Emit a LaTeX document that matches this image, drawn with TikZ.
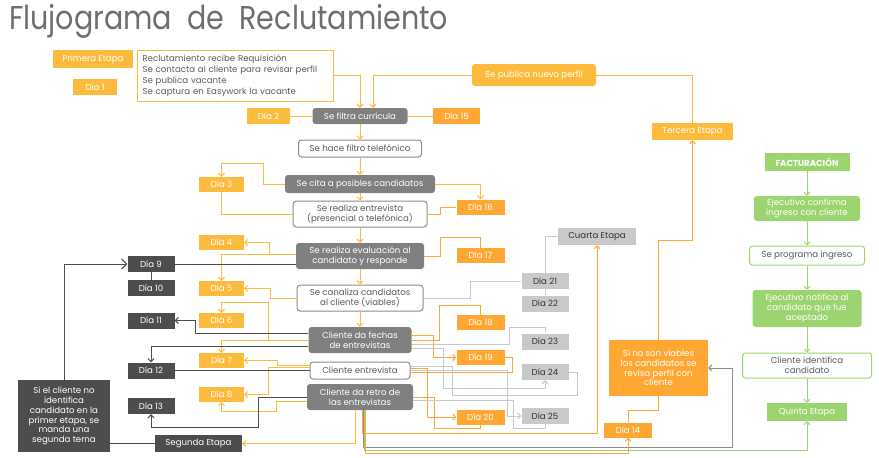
\documentclass[tikz,border=0pt]{standalone}
\usepackage{fontspec}
\setmainfont{Poppins}
\usetikzlibrary{arrows.meta}

\definecolor{amarillo}{HTML}{FDBB3D}
\definecolor{naranja}{HTML}{FFA733}
\definecolor{grisM}{HTML}{808080}
\definecolor{grisO}{HTML}{4D4D4D}
\definecolor{grisC}{HTML}{C9C9C9}
\definecolor{bordeG}{HTML}{8C8C8C}
\definecolor{textoG}{HTML}{5A5A5A}
\definecolor{verde}{HTML}{9CD46F}
\definecolor{titulo}{HTML}{6E6E6E}

\newcommand\fs{\fontsize{8.6}{9.8}\selectfont}

\tikzset{%
  caja/.style={inner sep=0pt, font=\fs, align=center},
  dia/.style={caja, fill=amarillo, text=white, minimum width=45pt, minimum height=15pt},
  diana/.style={caja, fill=naranja, text=white, minimum width=48pt, minimum height=15pt},
  diad/.style={caja, fill=grisO, text=white, minimum width=47pt, minimum height=16pt},
  diac/.style={caja, fill=grisC, text=black!80, minimum width=47pt, minimum height=16pt},
  proc/.style={caja, fill=grisM, text=white, rounded corners=3pt},
  procb/.style={caja, draw=bordeG, line width=1pt, fill=white, text=textoG, rounded corners=3pt},
  verdeb/.style={caja, fill=verde, text=white, rounded corners=3pt},
  verdeo/.style={caja, draw=verde, line width=1pt, fill=white, text=textoG, rounded corners=3pt},
  ol/.style={draw=amarillo, line width=1pt},
  on/.style={draw=naranja, line width=1pt},
  gl/.style={draw=grisC, line width=1pt},
  dl/.style={draw=grisO, line width=1pt},
  vl/.style={draw=verde, line width=1pt},
}

\begin{document}
\begin{tikzpicture}[x=1pt, y=-1pt, >={Straight Barb[length=3pt,width=6pt]}]
  \useasboundingbox (0,0) rectangle (879,458);

  \node[font=\fontsize{33}{33}\selectfont, text=titulo, anchor=west, inner sep=0pt] (titulo) at (9,21) {\scalebox{0.865}[1]{Flujograma\ \ de\ \ Reclutamiento}};

  % primera etapa
  \node[caja, fill=amarillo, text=white, minimum width=80pt, minimum height=18pt] (primera) at (93,59) {Primera Etapa};
  \node[caja, draw=amarillo, line width=1pt, fill=white, text=textoG, align=left, text width=185pt, inner xsep=5.5pt, minimum height=51pt, font=\fontsize{8.6}{11}\selectfont] (req) at (235,75.5)
    {Reclutamiento recibe Requisición\\Se contacta al cliente para revisar perfil\\Se publica vacante\\Se captura en Easywork la vacante};
  \node[dia, minimum width=44pt, minimum height=16pt] (dia1) at (95,87) {Día 1};
  \node[dia, minimum width=43pt, minimum height=16pt] (dia2) at (268.5,116) {Día 2};
  \node[diana, minimum width=47pt, minimum height=16pt] (dia15) at (456.5,116) {Día 15};
  \node[caja, fill=amarillo, text=white, rounded corners=3pt, minimum width=124pt, minimum height=22pt] (nuevo) at (534,75) {Se publica nuevo perfil};
  \node[caja, fill=amarillo, text=white, minimum width=81pt, minimum height=17pt] (tercera) at (692.5,131.5) {Tercera Etapa};

  % flujo central
  \node[proc, minimum width=95pt, minimum height=16pt] (filtra) at (360,116) {Se filtra currícula};
  \node[procb, minimum width=123pt, minimum height=17pt] (tel) at (360,148.5) {Se hace filtro telefónico};
  \node[proc, minimum width=150pt, minimum height=18pt] (cita) at (360,184) {Se cita a posibles candidatos};
  \node[procb, minimum width=134pt, minimum height=26pt] (entr) at (360,214) {Se realiza entrevista\\(presencial o telefónica)};
  \node[proc, minimum width=128pt, minimum height=26pt] (eval) at (360,256) {Se realiza evaluación al\\candidato y responde};
  \node[procb, minimum width=126pt, minimum height=26pt] (canal) at (360,298) {Se canaliza candidatos\\al cliente (viables)};
  \node[proc, minimum width=103pt, minimum height=26pt] (fechas) at (360,340) {Cliente da fechas\\de entrevistas};
  \node[procb, minimum width=100pt, minimum height=17pt] (cent) at (360,370.5) {Cliente entrevista};
  \node[proc, minimum width=106pt, minimum height=26pt] (retro) at (360,397) {Cliente da retro de\\las entrevistas};

  \foreach \n/\y in {3/184.5, 4/242.5, 5/288.5, 6/320.5, 7/360.5, 8/394.5}
    \node[dia] (dia\n) at (221.5,\y) {Día \n};
  \foreach \n/\y in {9/264, 10/288, 11/320.5, 12/370.5, 13/406}
    \node[diad] (dia\n) at (151,\y) {Día \n};
  \foreach \n/\y in {16/207, 17/255.5, 18/322.5, 19/357.5, 20/417}
    \node[diana] (dia\n) at (480.5,\y) {Día \n};
  \foreach \n/\y in {21/281, 22/303.5, 23/341.5, 24/372, 25/416}
    \node[diac] (dia\n) at (545,\y) {Día \n};

  \node[caja, fill=grisC, text=black!80, minimum width=78pt, minimum height=17pt] (cuarta) at (597,236.5) {Cuarta Etapa};
  \node[caja, fill=naranja, text=white, minimum width=99pt, minimum height=56pt] (viab) at (658.5,368) {Si no son viables\\los candidatos se\\revisa perfil con\\cliente};
  \node[diana] (dia14) at (628,430) {Día 14};
  \node[caja, fill=grisO, text=white, minimum width=92pt, minimum height=72pt] (sicli) at (64,416) {Si el cliente no\\identifica\\candidato en la\\primer etapa, se\\manda una\\segunda terna};
  \node[caja, fill=grisO, text=white, minimum width=87pt, minimum height=17pt] (segunda) at (198.5,443.5) {Segunda Etapa};

  % facturacion
  \node[caja, fill=verde, text=white, font=\fs\bfseries, minimum width=85pt, minimum height=18pt] (fact) at (807,162) {FACTURACIÓN};
  \node[verdeb, minimum width=106pt, minimum height=25pt] (ejec1) at (807,208.5) {Ejecutivo confirma\\ingreso con cliente};
  \node[verdeo, minimum width=115pt, minimum height=19pt] (prog) at (807,255.5) {Se programa ingreso};
  \node[verdeb, minimum width=109pt, minimum height=37pt] (ejec2) at (807,308.5) {Ejecutivo notifica al\\candidato que fue\\aceptado};
  \node[verdeo, minimum width=129pt, minimum height=25pt] (ident) at (807,365.5) {Cliente identifica\\candidato};
  \node[caja, fill=verde, text=white, minimum width=80pt, minimum height=18pt] (quinta) at (807,412) {Quinta Etapa};

  % conectores
  \foreach \a/\b in {filtra/tel, tel/cita, cita/entr, entr/eval, eval/canal, canal/fechas}
    \draw[ol,->] (\a) -- (\b);
  \foreach \a/\b in {fact/ejec1, ejec1/prog, prog/ejec2, ejec2/ident, ident/quinta}
    \draw[vl,->] (\a) -- (\b);

  \draw[ol,->] (req.east) -| (filtra.north);
  \draw[ol,->] (nuevo.west) -| ([xshift=13pt]filtra.north);
  \draw[ol] (nuevo.east) -| (tercera.north);
  \draw[ol] (dia2) -- (filtra);
  \draw[ol] (filtra) -- (dia15);

  % izquierda
  \draw[ol,->] (cita.west) -| (263,163) -| (dia3.north);
  \draw[ol] (dia3.south) |- (entr.west);
  \draw[ol,->] ([yshift=2pt]eval.west) -| (269,242.5) -- (dia4.east);
  \draw[ol,->] ([yshift=2pt]eval.west) -| (dia5.north);
  \draw[ol,->] (canal.west) -| (270,288.5) -- (dia5.east);
  \draw[ol,->] (fechas.west) -| (268,302) -| (dia6.north);
  \draw[ol,->] (fechas.west) -| (dia7.north);
  \draw[ol,->] ([yshift=5pt]cent.west) -| (277,360.5) -- (dia7.east);
  \draw[ol,->] ([yshift=3pt]cent.west) -| (268,394.5) -- (dia8.east);
  \draw[ol,->] ([yshift=-4pt]retro.west) -| (276,411) -| (dia8.south);

  \draw[dl,-{Straight Barb[length=5pt,width=10pt]}] (sicli.north) |- (dia9.west);
  \draw[dl] (dia9.east) -- (dia9.east -| eval.west);
  \draw[dl] (dia9) -- (dia10);
  \draw[dl,->] ([yshift=7pt]fechas.west) -| (195,320.5) -- (dia11.east);
  \draw[dl,->] ([yshift=-6pt]fechas.west) -| (dia12.north);
  \draw[dl] (dia12) -- (cent);
  \draw[dl,->] (retro.west) -| (258,427) -| (dia13.south);
  \draw[dl] (segunda.west) -- (segunda.west -| sicli.east);

  % derecha
  \draw[ol,->] (cita.east) -| (dia16.north);
  \draw[on] (dia16.west) -| (440,214) -- (entr.east);
  \draw[on] (eval.east) -| (440,237) -| (dia17.north);
  \draw[on] (fechas.east) -| (439,305) -| (dia18.north);
  \draw[on,->] ([yshift=5pt]fechas.east) -| (433,357.5) -- (dia19.west);
  \draw[on] (dia19.east) -| (512,372.5) -- ([yshift=-2pt]cent.east);
  \draw[on,->] ([yshift=2pt]cent.east) -| (427,417) -- (dia20.west);
  \draw[on] (retro.east) -| (434,428) -| (dia20.south);

  \draw[gl] (cuarta.west) -| (dia21.north);
  \draw[gl] (dia21) -- (dia22);
  \draw[gl] (canal.east) -| (470,281) -- (dia21.west);
  \draw[gl] ([yshift=-4pt]fechas.east) -| (509,327) -| (dia23.north);
  \draw[gl,->] ([yshift=-8pt]fechas.east) -| (443,388) -| (dia24.south);
  \draw[gl] ([yshift=4pt]cent.east) -| (452,395) -| (577,372) -- (dia24.east);
  \draw[gl,->] (cent.east) -| (507,416) -- (dia25.west);
  \draw[gl] ([yshift=-3pt]retro.east) -| (513,428) -| (dia25.south);

  % abajo
  \draw[ol,->] ([xshift=-5pt]retro.south) |- (segunda.east);
  \draw[on,->] ([xshift=2pt]retro.south) |- (597,433) -- (cuarta.south);
  \draw[draw=bordeG, line width=1pt, ->] ([xshift=3pt]retro.south) |- (732,447) |- (viab.east);
  \draw[vl,->] ([xshift=4pt]retro.south) |- (807,450) -- (quinta.south);
  \draw[on,->] ([xshift=5pt]retro.south) |- (628,453) -- (dia14.south);
  \draw[on,->] (viab.north) |- (692.5,240) -- (tercera.south);
  \draw[on] (viab.south) |- (628,410) -- (dia14.north);
\end{tikzpicture}
\end{document}
